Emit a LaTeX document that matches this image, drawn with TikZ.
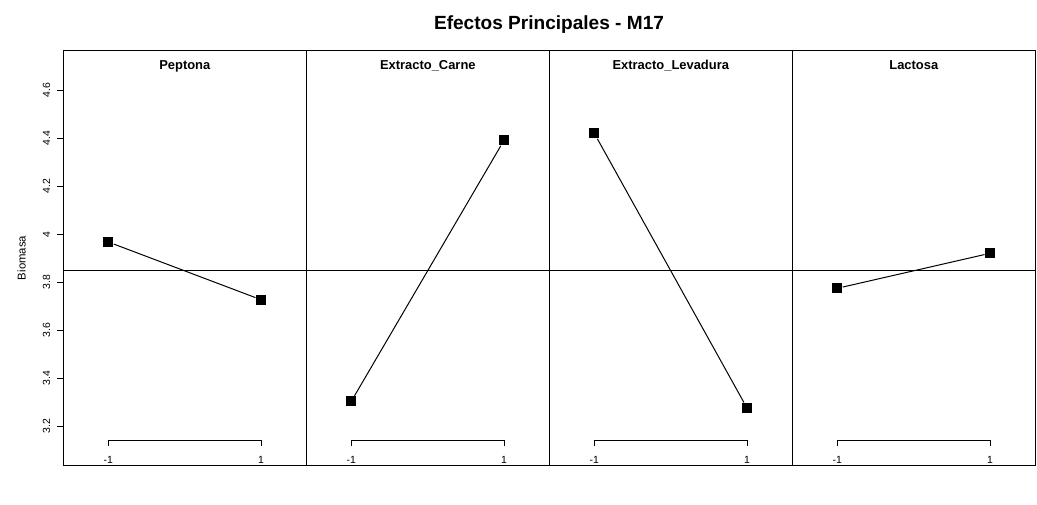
\documentclass[tikz,border=0pt]{standalone}
\usepackage{fontspec}
\setmainfont{Liberation Sans}
\usetikzlibrary{positioning}
\begin{document}
\begin{tikzpicture}[x=0.75pt,y=-0.75pt,line width=0.75pt,
    sq/.style={rectangle,fill=black,draw=none,inner sep=0pt,minimum size=7.5pt},
    ptitle/.style={font=\bfseries\fontsize{9.7}{11}\selectfont,anchor=base},
    tlab/.style={font=\fontsize{7.8}{9}\selectfont,inner sep=0pt}]
%
   \useasboundingbox (0,0) rectangle (1037,505);
   \node[font=\bfseries\fontsize{14.3}{17}\selectfont] (T) at (549,25) {Efectos Principales - M17};
   \node[tlab,font=\fontsize{8.5}{10}\selectfont,rotate=90] (Y) at (21.5,258) {Biomasa};
%
   \draw (63.3,50.3) rectangle (1035,465.7);
   \foreach \xl in {306.3,549.3,792.3}
      \draw (\xl,50.3) -- (\xl,465.7);
   \draw (63.3,271) -- (1035,271);
%
   \foreach \v/\yy in {4.6/90.3,4.4/138.3,4.2/186.3,4/234.3,3.8/282.3,3.6/330.3,3.4/378.3,3.2/426.3}{
      \draw (57.3,\yy) -- (63.3,\yy);
      \node[tlab,rotate=90] at (46.5,\yy) {\v};
   }
%
   \foreach \xl/\name in {63.3/Peptona,306.3/Extracto\_Carne,549.3/Extracto\_Levadura,792.3/Lactosa}{
      \node[ptitle] at ({\xl+121.5},69.5) {\name};
      \draw ({\xl+45},446) -- ({\xl+45},440.3) -- ({\xl+197.7},440.3) -- ({\xl+197.7},446);
      \node[tlab] at ({\xl+45},460) {-1};
      \node[tlab] at ({\xl+197.7},460) {1};
   }
%
   \node[sq] (P1) at (108.3,242)   {};
   \node[sq] (P2) at (261,299.7)   {};
   \node[sq] (C1) at (351.3,401.3) {};
   \node[sq] (C2) at (504,140.3)   {};
   \node[sq] (L1) at (594.3,133.3) {};
   \node[sq] (L2) at (747,408)     {};
   \node[sq] (A1) at (837.3,288.3) {};
   \node[sq] (A2) at (990,253.3)   {};
   \path (P1) edge (P2);
   \path (C1) edge (C2);
   \path (L1) edge (L2);
   \path (A1) edge (A2);
\end{tikzpicture}
\end{document}
